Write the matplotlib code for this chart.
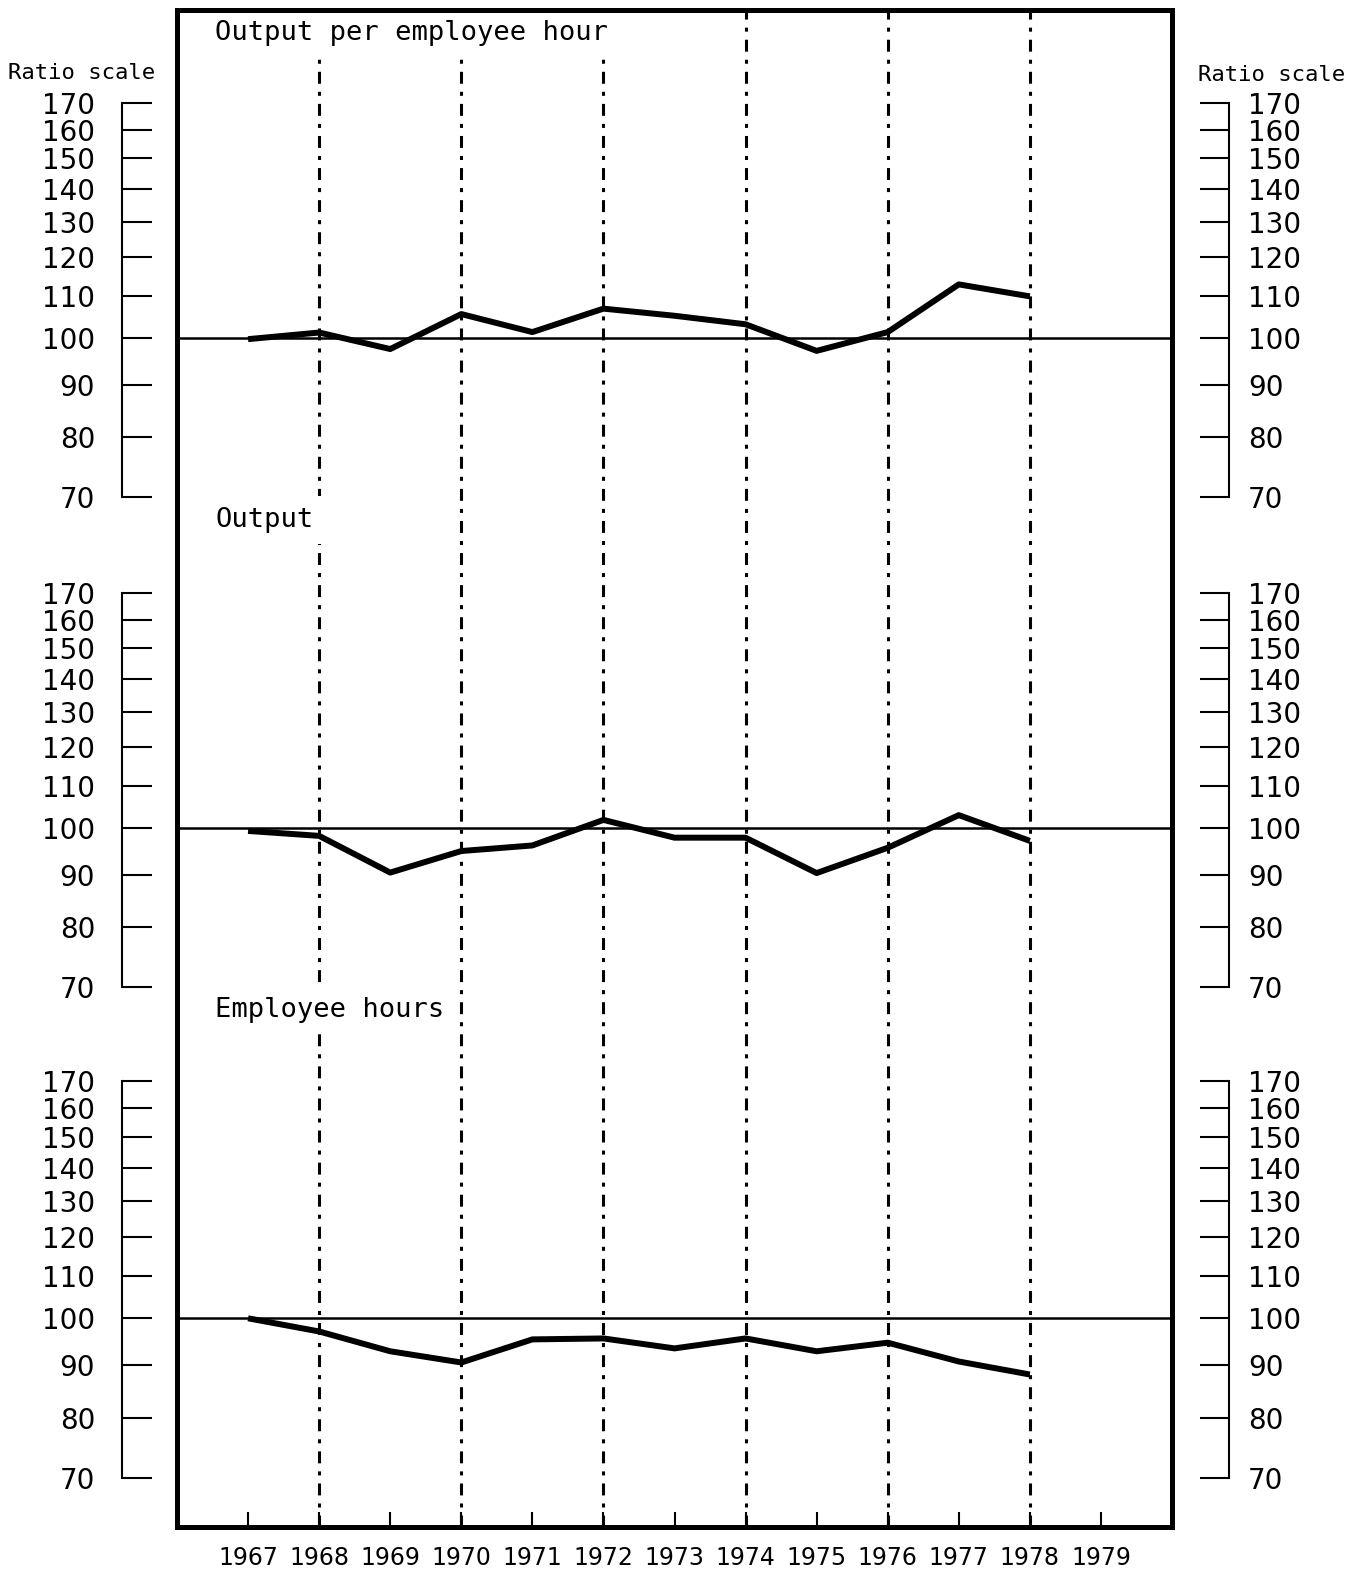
import matplotlib
matplotlib.use("Agg")
import matplotlib.pyplot as plt
from matplotlib.ticker import NullLocator

# ---------------- data ----------------
years = [1967, 1968, 1969, 1970, 1971, 1972, 1973, 1974, 1975, 1976, 1977, 1978]
output_per_hour = [99.8, 101.3, 97.6, 105.6, 101.4, 106.9, 105.2, 103.2, 97.2, 101.4, 112.9, 109.9]
output = [99.4, 98.3, 90.5, 95.0, 96.2, 101.9, 97.9, 97.9, 90.4, 95.7, 103.0, 97.2]
employee_hours = [100.0, 97.1, 92.9, 90.6, 95.4, 95.6, 93.5, 95.6, 92.9, 94.7, 90.8, 88.2]
panel_titles = ["Output per employee hour", "Output", "Employee hours"]
scale_ticks = [70, 80, 90, 100, 110, 120, 130, 140, 150, 160, 170]
year_ticks = list(range(1967, 1980))
year_labels = [str(y) for y in year_ticks]
marked_years = [1968, 1970, 1972, 1974, 1976, 1978]
scale_label = "Ratio scale"
base_value = 100

series = [output_per_hour, output, employee_hours]

plt.rcParams["lines.scale_dashes"] = False
plt.rcParams["font.family"] = ["DejaVu Sans"]

W, H = 1361, 1572
fig = plt.figure(figsize=(W / 100, H / 100), dpi=100)

# frame geometry (pixels)
fl, fr, ft, fb = 177, 1172, 10, 1527

frame = fig.add_axes([fl / W, 1 - fb / H, (fr - fl) / W, (fb - ft) / H])
frame.set_xlim(1966, 1980)
frame.set_ylim(0, 1)
for s in frame.spines.values():
    s.set_linewidth(3.6)
frame.set_yticks([])
frame.set_xticks(year_ticks, labels=year_labels)
frame.tick_params(axis="x", direction="in", length=11, width=1.5, pad=14,
                  labelsize=17)
for yr in marked_years:
    frame.axvline(yr, color="black", lw=2.2, ls=(0, (8.6, 5.8, 2.9, 5.8)),
                  zorder=1)

mono = ["DejaVu Sans Mono"]
title_pos = [(215, 33), (215, 520), (215, 1010)]
for (px, py), t in zip(title_pos, panel_titles):
    frame.text(px / W, 1 - py / H, t, transform=fig.transFigure,
               ha="left", va="center", fontsize=19.5, family=mono, zorder=2,
               bbox=dict(boxstyle="square,pad=0.4", fc="white", ec="none"))

fig.text(8 / W, 1 - 73 / H, scale_label, ha="left", va="center", fontsize=16,
         family=mono)
fig.text(1198 / W, 1 - 75 / H, scale_label, ha="left", va="center", fontsize=16,
         family=mono)

# panels: pixel y of 170 and 70
panels = [(102.7, 496.6), (592.7, 986.6), (1080.7, 1478.0)]

for (y170, y70), vals in zip(panels, series):
    ax = fig.add_axes([fl / W, 1 - y70 / H, (fr - fl) / W, (y70 - y170) / H])
    ax.patch.set_alpha(0)
    ax.set_yscale("log")
    ax.set_ylim(70, 170)
    ax.set_xlim(1966, 1980)
    for k in ["top", "bottom", "right"]:
        ax.spines[k].set_visible(False)
    ax.spines["left"].set_position(("outward", 39.6))
    ax.spines["left"].set_linewidth(1.5)
    ax.set_yticks(scale_ticks, labels=[str(t) for t in scale_ticks])
    ax.yaxis.set_minor_locator(NullLocator())
    ax.tick_params(axis="y", which="major", direction="in", length=21.6,
                   width=1.5, pad=19.4, labelsize=20)
    ax.set_xticks([])
    ax.axhline(base_value, color="black", lw=1.8)
    ax.plot(years, vals, color="black", lw=4.3, solid_joinstyle="round",
            solid_capstyle="butt")

    axr = ax.twinx()
    axr.set_yscale("log")
    axr.set_ylim(70, 170)
    for k in ["top", "bottom", "left"]:
        axr.spines[k].set_visible(False)
    axr.spines["right"].set_position(("outward", 41))
    axr.spines["right"].set_linewidth(1.5)
    axr.set_yticks(scale_ticks, labels=[str(t) for t in scale_ticks])
    axr.yaxis.set_minor_locator(NullLocator())
    axr.tick_params(axis="y", which="major", direction="in", length=21,
                    width=1.5, pad=13.7, labelsize=20)
    axr.set_xticks([])

fig.savefig("out.png", dpi=100)
